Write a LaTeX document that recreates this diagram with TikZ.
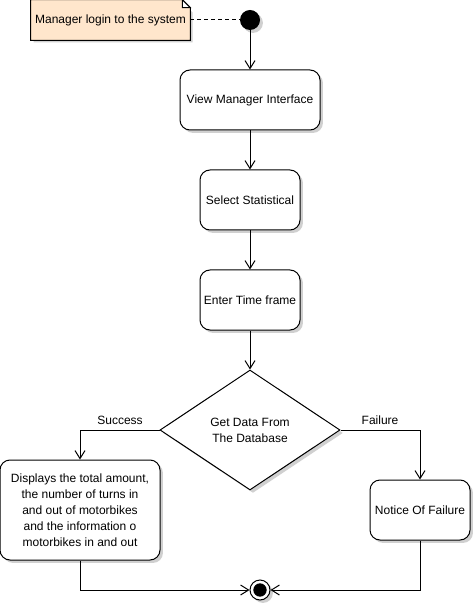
\documentclass[tikz,border=0pt]{standalone}
\usepackage{fontspec}
\setmainfont{Liberation Sans}
\usetikzlibrary{shapes.geometric,arrows.meta,shadows,calc}
\definecolor{notefill}{HTML}{FFE6CC}
\definecolor{shadowgray}{HTML}{D0D0D0}
\tikzset{
  base/.style={draw=black, line width=0.75pt, fill=white, font=\fontsize{9}{12}\selectfont, align=center,
    drop shadow={shadow xshift=2.2pt, shadow yshift=-2.2pt, fill=shadowgray, opacity=1}},
  actbox/.style={base, rectangle, rounded corners=7.5pt, inner sep=0pt},
  decision/.style={base, diamond, inner sep=0pt, minimum width=135pt, minimum height=90pt},
  flow/.style={draw=black, line width=0.75pt, -{Straight Barb[length=6pt,width=7.5pt,line width=0.75pt]}},
  lbl/.style={font=\fontsize{9}{12}\selectfont, inner sep=0pt},
}
\begin{document}
\begin{tikzpicture}[x=0.75pt,y=-0.75pt]
\useasboundingbox (0,0) rectangle (475,605);
% note
\node[inner sep=0pt, minimum width=119.25pt, minimum height=30pt] (note) at (110.5,20) {};
\fill[shadowgray] (33.5,2.5) -- (182.5,2.5) -- (192.5,12.5) -- (192.5,42.5) -- (33.5,42.5) -- cycle;
\draw[line width=0.75pt, fill=notefill] (note.north west) -- ($(note.north east)+(-8,0)$) -- ($(note.north east)+(0,8)$) -- (note.south east) -- (note.south west) -- cycle;
\draw[line width=0.75pt, fill=white] ($(note.north east)+(-8,0)$) -- ($(note.north east)+(-8,8)$) -- ($(note.north east)+(0,8)$) -- cycle;
\node[lbl] (notetext) at (note.center) {Manager login to the system};
% start
\node[circle, fill=black, inner sep=0pt, minimum size=15pt,
  drop shadow={shadow xshift=2.2pt, shadow yshift=-2.2pt, fill=shadowgray, opacity=1}] (start) at (250,20) {};
% activities
\node[actbox, minimum width=105pt, minimum height=45pt] (view) at (250,100) {View Manager Interface};
\node[actbox, minimum width=75pt, minimum height=45pt] (select) at (250,200) {Select Statistical};
\node[actbox, minimum width=75pt, minimum height=45pt] (enter) at (250,300) {Enter Time frame};
\node[decision] (dec) at (250,430) {Get Data From\\The Database};
\node[actbox, minimum width=120pt, minimum height=75pt] (disp) at (80,510) {Displays the total amount,\\the number of turns in\\and out of motorbikes\\and the information o\\motorbikes in and out};
\node[actbox, minimum width=75pt, minimum height=45pt] (fail) at (420,510) {Notice Of Failure};
% end
\node[circle, draw=black, line width=0.75pt, fill=white, inner sep=0pt, minimum size=15pt,
  drop shadow={shadow xshift=2.2pt, shadow yshift=-2.2pt, fill=shadowgray, opacity=1}] (end) at (260,590) {};
\node[circle, fill=black, inner sep=0pt, minimum size=10pt] (endin) at (end.center) {};
% connectors
\draw[line width=0.75pt, dashed, dash pattern=on 3pt off 2.25pt] (note.east) -- (start.west);
\draw[flow] (start) -- (view);
\draw[flow] (view) -- (select);
\draw[flow] (select) -- (enter);
\draw[flow] (enter) -- (dec.north);
\draw[flow] (dec.west) -| (disp.north);
\draw[flow] (dec.east) -| (fail.north);
\draw[flow] (disp.south) |- (end.west);
\draw[flow] (fail.south) |- (end.east);
% labels
\node[lbl] (succ) at (120,420) {Success};
\node[lbl] (failure) at (380,420) {Failure};
\end{tikzpicture}
\end{document}
